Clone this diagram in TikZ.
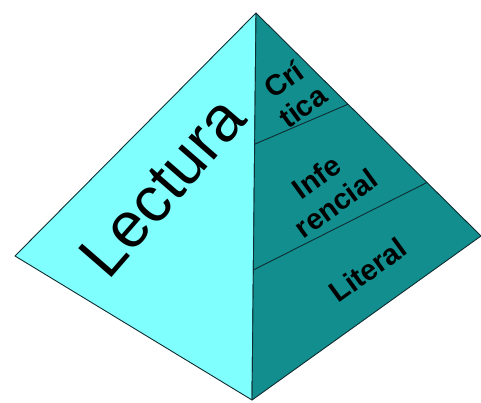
\documentclass[tikz,border=0pt]{standalone}
\usepackage{fontspec}
\setmainfont{Liberation Sans}
\usetikzlibrary{calc}
\definecolor{faceL}{RGB}{128,255,255}
\definecolor{faceR}{RGB}{18,142,142}
\definecolor{edgecol}{RGB}{15,45,50}
\tikzset{
  face/.style={draw=edgecol,line width=0.9pt,line join=round},
  band/.style={draw=edgecol,line width=0.9pt},
  lvl/.style={font=\fontsize{29}{33}\selectfont\bfseries,align=center,inner sep=0pt,rotate=36},
}

\begin{document}
\begin{tikzpicture}[x=1pt,y=-1pt]
  \useasboundingbox (0,0) rectangle (481,403);
  % corners of the pyramid
  \coordinate (apex) at (256,13);
  \coordinate (lft) at (15,256);
  \coordinate (bot) at (252,400);
  \coordinate (rgt) at (481,236);
  % faces
  \draw[face,fill=faceL] (apex) -- (lft) -- (bot) -- cycle;
  \draw[face,fill=faceR] (apex) -- (bot) -- (rgt) -- cycle;
  % levels on the right face
  \draw[band] ($(apex)!0.339!(bot)$) -- ($(apex)!0.409!(rgt)$);
  \draw[band] ($(apex)!0.664!(bot)$) -- ($(apex)!0.760!(rgt)$);
  \node[font=\fontsize{64}{64}\selectfont,rotate=49,inner sep=0pt] (lect) at (162,187) {Lectura};
  \node[lvl] (crit) at (293,93) {Crí\\tica};
  \node[lvl] (infe) at (326,190) {Infe\\rencial};
  \node[lvl] (lit) at (368,270) {Literal};
\end{tikzpicture}
\end{document}
